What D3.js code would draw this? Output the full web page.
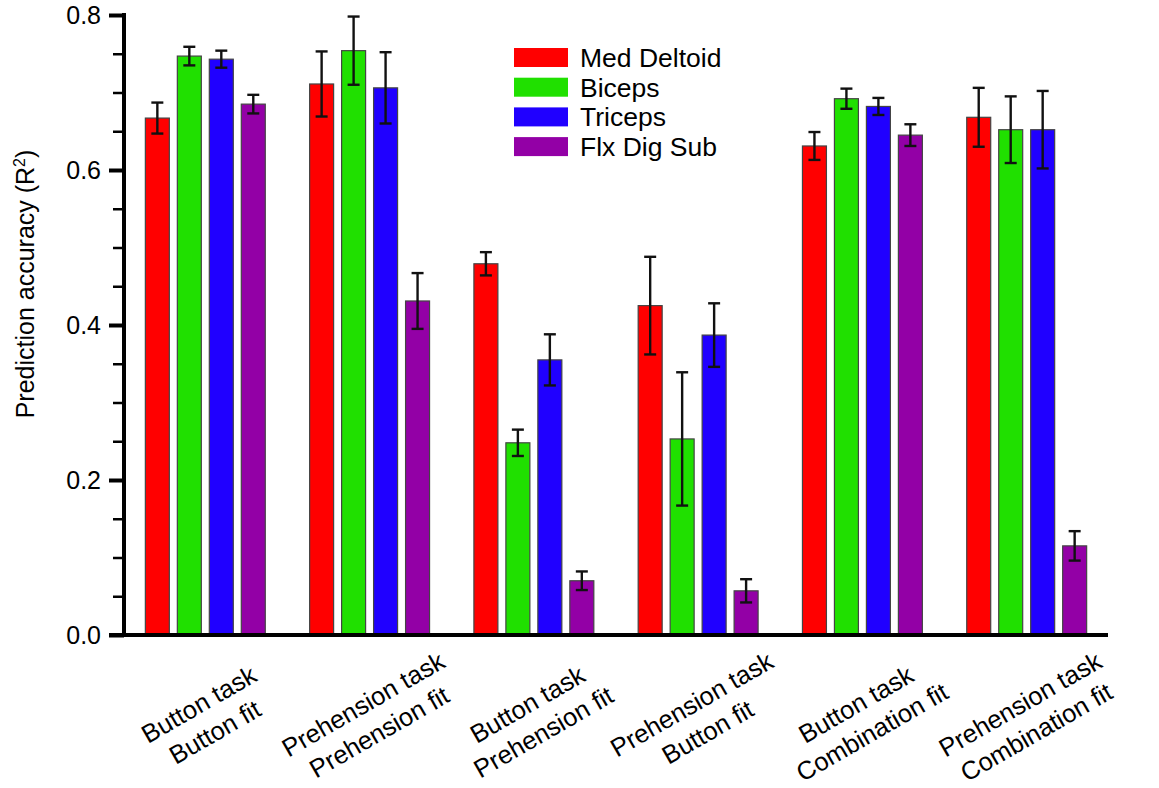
<!DOCTYPE html>
<html>
<head>
<meta charset="utf-8">
<script src="https://cdn.jsdelivr.net/npm/d3@7"></script>
<style>
  body { margin: 0; background: #fff; }
  text { font-family: "Liberation Sans", Arial, Helvetica, sans-serif; fill: #000; }
</style>
</head>
<body>
<svg width="1159" height="788"></svg>
<script>
// values (R^2, mean and error half-width)
var categories = [
  ["Button task", "Button fit"],
  ["Prehension task", "Prehension fit"],
  ["Button task", "Prehension fit"],
  ["Prehension task", "Button fit"],
  ["Button task", "Combination fit"],
  ["Prehension task", "Combination fit"]
];
var muscles = ["Med Deltoid", "Biceps", "Triceps", "Flx Dig Sub"];
var colors = ["#ff0000", "#20e000", "#2000ff", "#9300a6"];

var deltoid    = [0.667, 0.711, 0.479, 0.425, 0.631, 0.668];
var deltoidErr = [0.020, 0.042, 0.015, 0.063, 0.018, 0.038];
var biceps     = [0.747, 0.754, 0.248, 0.253, 0.692, 0.652];
var bicepsErr  = [0.012, 0.044, 0.017, 0.086, 0.013, 0.043];
var triceps    = [0.743, 0.706, 0.355, 0.387, 0.682, 0.652];
var tricepsErr = [0.011, 0.046, 0.033, 0.041, 0.011, 0.050];
var flx        = [0.685, 0.431, 0.070, 0.057, 0.645, 0.115];
var flxErr     = [0.012, 0.036, 0.012, 0.015, 0.014, 0.019];

var majorTicks = [0, 0.2, 0.4, 0.6, 0.8];

var values = [deltoid, biceps, triceps, flx],
    errors = [deltoidErr, bicepsErr, tricepsErr, flxErr];

var data = [];
categories.forEach(function(c, i) {
  muscles.forEach(function(m, j) {
    data.push({group: i, muscle: m, color: colors[j], value: values[j][i], err: errors[j][i]});
  });
});

var svg = d3.select("svg"),
    plot = {left: 124, right: 1108, top: 15, bottom: 635};

var x0 = d3.scaleBand()
    .domain(d3.range(categories.length))
    .range([plot.left, plot.right])
    .paddingInner(0.27)
    .paddingOuter(0.13);

var x1 = d3.scaleBand()
    .domain(muscles)
    .range([0, x0.bandwidth()])
    .paddingInner(0.25);

var y = d3.scaleLinear()
    .domain([0, 0.8])
    .range([plot.bottom, plot.top]);

// bars
svg.append("g").selectAll("rect")
  .data(data)
  .enter().append("rect")
    .attr("x", function(d) { return x0(d.group) + x1(d.muscle); })
    .attr("y", function(d) { return y(d.value); })
    .attr("width", x1.bandwidth())
    .attr("height", function(d) { return y(0) - y(d.value); })
    .attr("fill", function(d) { return d.color; })
    .attr("stroke", "#444")
    .attr("stroke-width", 1.2);

// error bars
var eb = svg.append("g")
    .attr("stroke", "#111")
    .attr("stroke-width", 2.4)
    .attr("fill", "none")
  .selectAll("g")
  .data(data)
  .enter().append("g")
    .attr("transform", function(d) { return "translate(" + (x0(d.group) + x1(d.muscle) + x1.bandwidth() / 2) + ",0)"; });

eb.append("line")
    .attr("y1", function(d) { return y(d.value + d.err); })
    .attr("y2", function(d) { return y(d.value - d.err); });
eb.append("line")
    .attr("x1", -6).attr("x2", 6)
    .attr("y1", function(d) { return y(d.value + d.err); })
    .attr("y2", function(d) { return y(d.value + d.err); });
eb.append("line")
    .attr("x1", -6).attr("x2", 6)
    .attr("y1", function(d) { return y(d.value - d.err); })
    .attr("y2", function(d) { return y(d.value - d.err); });

// y axis: minor ticks every 0.05, labelled every 0.2
var minor = svg.append("g")
    .attr("transform", "translate(" + plot.left + ",0)")
    .call(d3.axisLeft(y).ticks(16).tickSize(11).tickFormat(""));
minor.select(".domain").remove();
minor.selectAll("line").attr("stroke", "#000").attr("stroke-width", 2.5);

var major = svg.append("g")
    .attr("transform", "translate(" + plot.left + ",0)")
    .call(d3.axisLeft(y).tickValues(majorTicks).tickSize(15).tickPadding(8).tickFormat(d3.format(".1f")));
major.select(".domain").remove();
major.selectAll("line").attr("stroke", "#000").attr("stroke-width", 4);
major.selectAll("text")
    .style("font-size", "25px")
    .attr("fill", "#000");

svg.append("line")
    .attr("x1", plot.left).attr("x2", plot.left)
    .attr("y1", plot.top - 2).attr("y2", plot.bottom + 2)
    .attr("stroke", "#000").attr("stroke-width", 4);

svg.append("line")
    .attr("x1", plot.left - 15).attr("x2", plot.right)
    .attr("y1", plot.bottom).attr("y2", plot.bottom)
    .attr("stroke", "#000").attr("stroke-width", 4);

var ylab = svg.append("text")
    .attr("transform", "translate(34,284) rotate(-90)")
    .attr("text-anchor", "middle")
    .style("font-size", "25px");
ylab.append("tspan").text("Prediction accuracy (R");
ylab.append("tspan").attr("dy", -9).style("font-size", "16px").text("2");
ylab.append("tspan").attr("dy", 9).text(")");

// category labels
var cat = svg.append("g").selectAll("text")
  .data(categories)
  .enter().append("text")
    .attr("transform", function(d, i) { return "translate(" + (x0(i) + x0.bandwidth() / 2 - 2) + ",712) rotate(-30)"; })
    .attr("text-anchor", "middle")
    .style("font-size", "25.5px");
cat.append("tspan")
    .attr("x", 0).attr("y", 0)
    .text(function(d) { return d[0]; });
cat.append("tspan")
    .attr("x", 0).attr("y", 32)
    .text(function(d) { return d[1]; });

// legend
var legend = svg.append("g")
    .attr("transform", "translate(514,48)")
  .selectAll("g")
  .data(muscles)
  .enter().append("g")
    .attr("transform", function(d, i) { return "translate(0," + i * 29.7 + ")"; });

legend.append("rect")
    .attr("width", 54)
    .attr("height", 19)
    .attr("fill", function(d, i) { return colors[i]; });

legend.append("text")
    .attr("x", 66)
    .attr("y", 19)
    .style("font-size", "26.5px")
    .text(function(d) { return d; });
</script>
</body>
</html>
